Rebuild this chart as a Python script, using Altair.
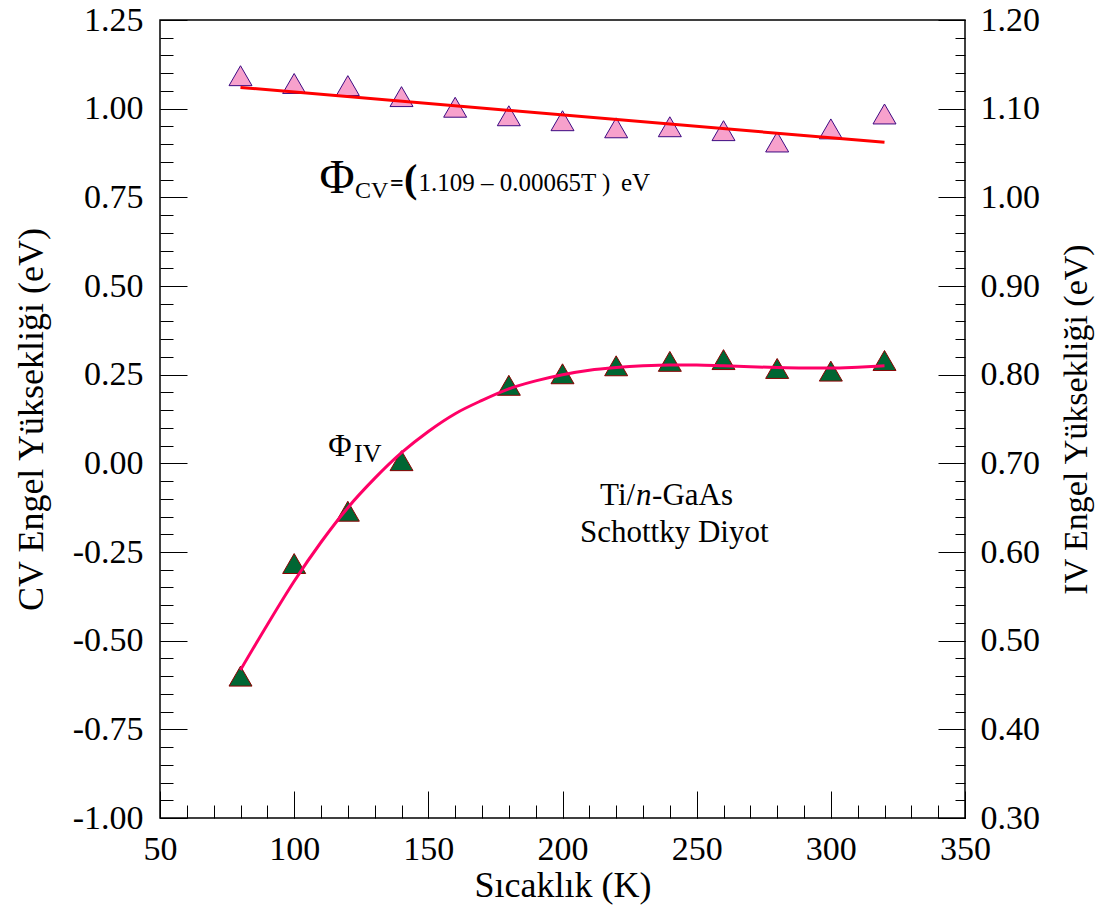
import altair as alt
import pandas as pd

# ---------------- data ----------------
T_CV = [80, 100, 120, 140, 160, 180, 200, 220, 240, 260, 280, 300, 320]
PHI_CV = [1.093, 1.071, 1.065, 1.034, 1.004, 0.980, 0.966, 0.946, 0.949, 0.938, 0.906, 0.943, 0.985]

T_IV = [80, 100, 120, 140, 180, 200, 220, 240, 260, 280, 300, 320]
PHI_IV = [0.460, 0.587, 0.646, 0.703, 0.788, 0.801, 0.810, 0.815, 0.817, 0.807, 0.804, 0.816]

FIT_CV_T = [80, 320]
FIT_CV = [1.060, 0.905]

FIT_IV_T = [80, 90, 100, 110, 120, 130, 140, 150, 160, 170, 180, 190, 200, 210,
            220, 230, 240, 250, 260, 270, 280, 290, 300, 310, 320]
FIT_IV = [0.467, 0.518, 0.567, 0.611, 0.650, 0.683, 0.712, 0.736, 0.756, 0.771,
          0.784, 0.793, 0.800, 0.805, 0.808, 0.810, 0.811, 0.811, 0.810, 0.809,
          0.808, 0.8075, 0.8075, 0.8085, 0.810]

X_MAJOR = [50, 100, 150, 200, 250, 300, 350]
X_MINOR = [50, 60, 70, 80, 90, 100, 110, 120, 130, 140, 150, 160, 170, 180, 190, 200,
           210, 220, 230, 240, 250, 260, 270, 280, 290, 300, 310, 320, 330, 340, 350]
CV_MAJOR = [-1.00, -0.75, -0.50, -0.25, 0.00, 0.25, 0.50, 0.75, 1.00, 1.25]
CV_MINOR = [round(-1.0 + 0.05 * i, 2) for i in range(46)]
IV_MAJOR = [0.30, 0.40, 0.50, 0.60, 0.70, 0.80, 0.90, 1.00, 1.10, 1.20]
IV_MINOR = [round(0.30 + 0.02 * i, 2) for i in range(46)]

FONT = "Liberation Serif"

xs = alt.Scale(domain=[50, 350], nice=False, zero=False)
ys_cv = alt.Scale(domain=[-1.0, 1.25], nice=False, zero=False)
ys_iv = alt.Scale(domain=[0.3, 1.2], nice=False, zero=False)

common = dict(domain=False, grid=False, tickColor="black", tickWidth=1,
              labelColor="black", labelFont=FONT, titleFont=FONT,
              titleColor="black", titleFontWeight="normal")

x_major_axis = alt.Axis(orient="bottom", values=X_MAJOR, tickSize=27, offset=-27,
                        labelFontSize=34, labelPadding=14, labelFlush=False,
                        labelOverlap=False, title="Sıcaklık (K)", titleFontSize=36,
                        titlePadding=2, **common)
x_minor_axis = alt.Axis(orient="bottom", values=X_MINOR, tickSize=13, offset=-13,
                        labels=False, title=None, **common)

cv_major_axis = alt.Axis(orient="left", values=CV_MAJOR, tickSize=27, offset=-27,
                         labelFontSize=34, labelPadding=17, labelOverlap=False,
                         labelExpr="datum.value < 0 ? '-' + format(-datum.value, '.2f') : format(datum.value, '.2f')",
                         title="CV Engel Yüksekliği (eV)", titleFontSize=36,
                         titlePadding=22, **common)
cv_minor_axis = alt.Axis(orient="left", values=CV_MINOR, tickSize=13, offset=-13,
                         labels=False, title=None, **common)

iv_major_axis = alt.Axis(orient="right", values=IV_MAJOR, tickSize=27, offset=-27,
                         labelFontSize=34, labelPadding=15, labelOverlap=False,
                         format=".2f", title="IV Engel Yüksekliği (eV)",
                         titleFontSize=34, titleAngle=270, titleBaseline="top",
                         titlePadding=20, **common)
iv_minor_axis = alt.Axis(orient="right", values=IV_MINOR, tickSize=10, offset=-10,
                         labels=False, title=None, **common)

cv_df = pd.DataFrame({"T": T_CV, "v": PHI_CV})
iv_df = pd.DataFrame({"T": T_IV, "v": PHI_IV})
cvfit_df = pd.DataFrame({"T": FIT_CV_T, "v": FIT_CV})
ivfit_df = pd.DataFrame({"T": FIT_IV_T, "v": FIT_IV})

cv_points = alt.Chart(cv_df).mark_point(
    shape="triangle-up", size=529, filled=True, fill="#F7A1CC", stroke="#3C0A82",
    strokeWidth=1, opacity=1, fillOpacity=1
).encode(
    x=alt.X("T:Q", scale=xs, axis=x_major_axis),
    y=alt.Y("v:Q", scale=ys_cv, axis=cv_major_axis),
)

cv_line = alt.Chart(cvfit_df).mark_line(color="#FF0000", strokeWidth=3).encode(
    x=alt.X("T:Q", scale=xs, axis=x_minor_axis),
    y=alt.Y("v:Q", scale=ys_cv, axis=cv_minor_axis),
)

iv_points = alt.Chart(iv_df).mark_point(
    shape="triangle-up", size=529, filled=True, fill="#006633", stroke="#8B0000",
    strokeWidth=1, opacity=1, fillOpacity=1
).encode(
    x=alt.X("T:Q", scale=xs, axis=None),
    y=alt.Y("v:Q", scale=ys_iv, axis=iv_major_axis),
)

iv_line = alt.Chart(ivfit_df).mark_line(color="#FF0066", strokeWidth=3,
                                        interpolate="monotone").encode(
    x=alt.X("T:Q", scale=xs, axis=None),
    y=alt.Y("v:Q", scale=ys_iv, axis=iv_minor_axis),
)


def label(txt, t, v, size, weight="normal", style="normal", align="left", dx=0):
    df = pd.DataFrame({"T": [t], "v": [v], "txt": [txt]})
    return alt.Chart(df).mark_text(
        font=FONT, fontSize=size, fontWeight=weight, fontStyle=style,
        align=align, baseline="alphabetic", dx=dx, color="black"
    ).encode(
        x=alt.X("T:Q", scale=xs, axis=None),
        y=alt.Y("v:Q", scale=ys_cv, axis=None),
        text="txt:N",
    )


texts = [
    label("Φ", 116.0, 0.762, 48, align="center"),
    label("CV", 122.7, 0.748, 24),
    label("=", 138.3, 0.768, 24, weight="bold", align="center"),
    label("(", 143.4, 0.765, 40, weight="bold", align="center"),
    label("1.109 – 0.00065T )", 146.3, 0.768, 25),
    label("eV", 221.8, 0.768, 25),
    label("Φ", 117.1, 0.021, 32, align="center"),
    label("IV", 122.3, 0.004, 26),
    label("Ti/", 214.0, -0.1175, 31),
    label("n", 214.0, -0.1175, 31, style="italic", dx=36),
    label("-GaAs", 214.0, -0.1175, 31, dx=52),
    label("Schottky Diyot", 206.5, -0.222, 31),
]

chart = alt.layer(cv_points, cv_line, iv_points, iv_line, *texts).resolve_scale(
    y="independent"
).resolve_axis(
    x="independent", y="independent"
).properties(
    width=805, height=798,
    autosize=alt.AutoSizeParams(type="none"),
    padding={"left": 160, "top": 20, "right": 144, "bottom": 100},
    background="white",
).configure(
    font=FONT
).configure_axis(
    labelFont=FONT, titleFont=FONT
).configure_view(stroke="black", strokeWidth=1.5)

chart.save("out.html", embed_options={"renderer": "svg", "actions": False})
